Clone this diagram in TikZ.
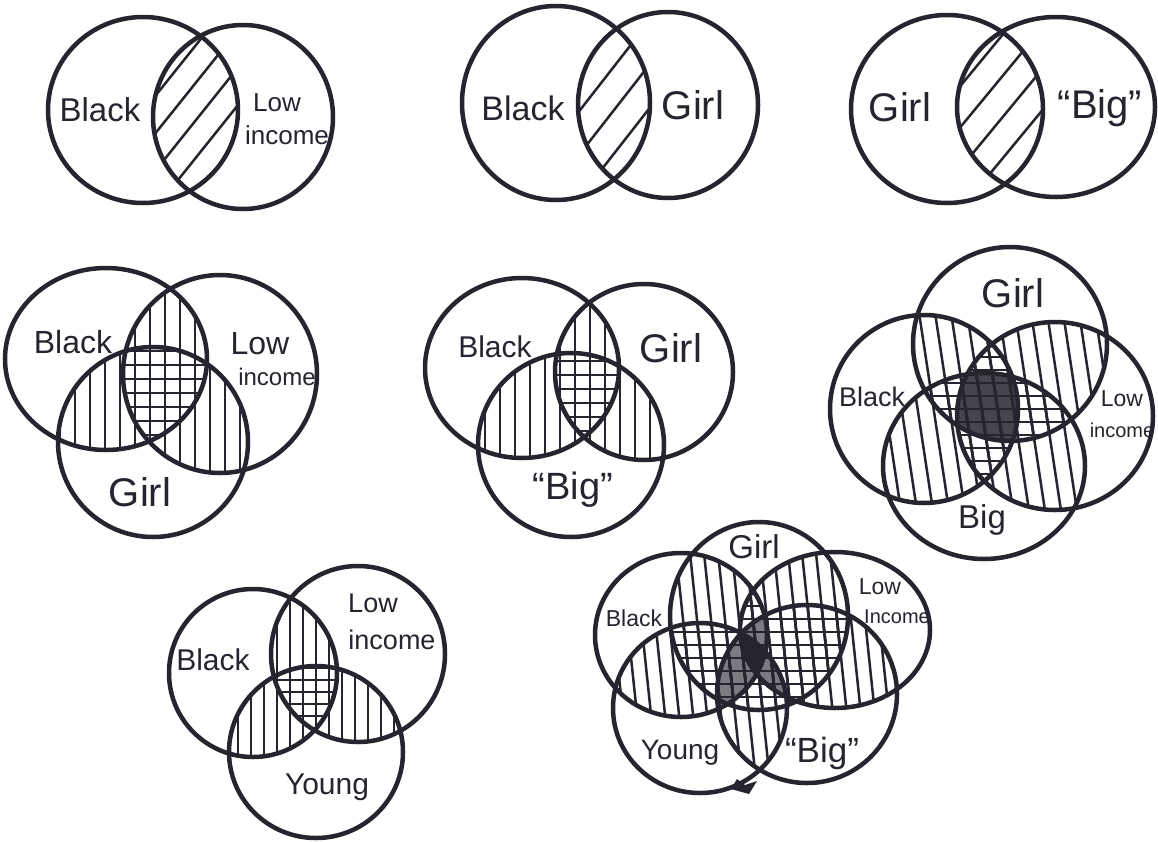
\documentclass[tikz,border=0pt]{standalone}
\usepackage{fontspec}
\setmainfont{Liberation Sans}
\definecolor{ink}{RGB}{38,36,46}
% diagram 1
\def\dOneA{(143,110) ellipse [x radius=95, y radius=93]}
\def\dOneB{(243,117) ellipse [x radius=90, y radius=92]}
% diagram 2
\def\dTwoA{(556,103) ellipse [x radius=94, y radius=97]}
\def\dTwoB{(668,105) ellipse [x radius=90, y radius=93]}
% diagram 3
\def\dThrA{(947,109) ellipse [x radius=96, y radius=94]}
\def\dThrB{(1056,107) ellipse [x radius=99, y radius=90]}
% diagram 4
\def\dFouA{(106,359) ellipse [x radius=101, y radius=91]}
\def\dFouB{(220,374) ellipse [x radius=97, y radius=99]}
\def\dFouC{(153,442) ellipse [x radius=95, y radius=95]}
% diagram 5
\def\dFivA{(522,368) ellipse [x radius=97, y radius=90]}
\def\dFivB{(644,372) ellipse [x radius=89, y radius=88]}
\def\dFivC{(571,445) ellipse [x radius=93, y radius=92]}
% diagram 6
\def\dSixA{(1010,344) ellipse [x radius=97, y radius=97]}
\def\dSixB{(924,409) ellipse [x radius=94, y radius=94]}
\def\dSixC{(1055,416) ellipse [x radius=98, y radius=94]}
\def\dSixD{(984,466) ellipse [x radius=101, y radius=93]}
% diagram 7
\def\dSevA{(253,673) ellipse [x radius=84, y radius=84]}
\def\dSevB{(358,654) ellipse [x radius=87, y radius=88]}
\def\dSevC{(316,752) ellipse [x radius=87, y radius=86]}
% diagram 8
\def\fivG{(759,616) ellipse [x radius=89, y radius=94]}
\def\fivK{(681,635) ellipse [x radius=86, y radius=82]}
\def\fivL{(835,630) ellipse [x radius=95, y radius=78]}
\def\fivY{(700,708) ellipse [x radius=87, y radius=85]}
\def\fivB{(807,694) ellipse [x radius=90, y radius=89]}

\newcommand\hatchV[6]{%
  \begin{scope}#1
  \foreach \i in {0,...,45}{\draw[hatch] ({#2+#6*\i},#3) -- ({#2+#6*\i+#5},#4);}
  \end{scope}}
\newcommand\hatchH[6]{%
  \begin{scope}#1
  \foreach \i in {0,...,30}{\draw[hatch] (#3,{#2+#6*\i}) -- (#4,{#2+#6*\i+#5});}
  \end{scope}}

\tikzset{
  ring/.style={draw=ink, line width=4.5pt},
  hatch/.style={draw=ink, line width=2.5pt, line cap=round},
  lab/.style={text=ink, inner sep=0pt, font=\fontsize{#1}{#1}\selectfont},
  lab/.default=32
}
\begin{document}
\begin{tikzpicture}[x=1pt,y=-1pt]
\useasboundingbox (0,0) rectangle (1158,841);
\fill[white] (0,0) rectangle (1158,841);

% ---------- diagram 1
\hatchV{\clip\dOneA;\clip\dOneB;}{-30}{215}{15}{160}{30}
\draw[ring] \dOneA; \draw[ring] \dOneB;
\node[lab=33] (l1a) at (100,110) {Black};
\node[lab=26] (l1b) at (277,103) {Low};
\node[lab=26] (l1c) at (287,135) {income};

% ---------- diagram 2
\hatchV{\clip\dTwoA;\clip\dTwoB;}{400}{210}{5}{160}{34}
\draw[ring] \dTwoA; \draw[ring] \dTwoB;
\node[lab=34] (l2a) at (523,108) {Black};
\node[lab=40] (l2b) at (693,105) {Girl};

% ---------- diagram 3
\hatchV{\clip\dThrA;\clip\dThrB;}{790}{210}{10}{165}{34}
\draw[ring] \dThrA; \draw[ring] \dThrB;
\node[lab=40] (l3a) at (900,107) {Girl};
\node[lab=40] (l3b) at (1100,108) {“Big”};

% ---------- diagram 4
\hatchV{\clip\dFouA;\clip\dFouB;}{0}{250}{560}{0}{15}
\hatchV{\clip\dFouA;\clip\dFouC;}{0}{250}{560}{0}{15}
\hatchV{\clip\dFouB;\clip\dFouC;}{0}{250}{560}{0}{15}
\hatchH{\clip\dFouA;\clip\dFouB;\clip\dFouC;}{253}{0}{330}{0}{14}
\draw[ring] \dFouA; \draw[ring] \dFouB; \draw[ring] \dFouC;
\node[lab=32] (l4a) at (73,342) {Black};
\node[lab=32] (l4b) at (260,344) {Low};
\node[lab=24] (l4c) at (277,377) {income};
\node[lab=40] (l4d) at (140,492) {Girl};

% ---------- diagram 5
\hatchV{\clip\dFivA;\clip\dFivB;}{410}{260}{560}{0}{15}
\hatchV{\clip\dFivA;\clip\dFivC;}{410}{260}{560}{0}{15}
\hatchV{\clip\dFivB;\clip\dFivC;}{410}{260}{560}{0}{15}
\hatchH{\clip\dFivA;\clip\dFivB;\clip\dFivC;}{263}{400}{760}{0}{14}
\draw[ring] \dFivA; \draw[ring] \dFivB; \draw[ring] \dFivC;
\node[lab=30] (l5a) at (495,347) {Black};
\node[lab=40] (l5b) at (671,348) {Girl};
\node[lab=38] (l5c) at (573,490) {“Big”};

% ---------- diagram 6
\hatchV{\clip\dSixA;\clip\dSixB;}{780}{240}{570}{50}{16}
\hatchV{\clip\dSixA;\clip\dSixC;}{780}{240}{570}{50}{16}
\hatchV{\clip\dSixA;\clip\dSixD;}{780}{240}{570}{50}{16}
\hatchV{\clip\dSixB;\clip\dSixC;}{780}{240}{570}{50}{16}
\hatchV{\clip\dSixB;\clip\dSixD;}{780}{240}{570}{50}{16}
\hatchV{\clip\dSixC;\clip\dSixD;}{780}{240}{570}{50}{16}
\hatchH{\clip\dSixA;\clip\dSixB;\clip\dSixC;}{240}{820}{1158}{0}{13}
\hatchH{\clip\dSixA;\clip\dSixB;\clip\dSixD;}{240}{820}{1158}{0}{13}
\hatchH{\clip\dSixA;\clip\dSixC;\clip\dSixD;}{240}{820}{1158}{0}{13}
\hatchH{\clip\dSixB;\clip\dSixC;\clip\dSixD;}{240}{820}{1158}{0}{13}
\begin{scope}\clip\dSixA;\clip\dSixB;\clip\dSixC;
  \fill[ink, opacity=0.85] \dSixD;
\end{scope}
\draw[ring] \dSixA; \draw[ring] \dSixB; \draw[ring] \dSixC; \draw[ring] \dSixD;
\node[lab=40] (l6a) at (1013,293) {Girl};
\node[lab=27] (l6b) at (872,397) {Black};
\node[lab=23] (l6c) at (1122,399) {Low};
\node[lab=20] (l6d) at (1122,430) {income};
\node[lab=33] (l6e) at (982,520) {Big};

% ---------- diagram 7
\hatchV{\clip\dSevA;\clip\dSevB;}{160}{560}{841}{0}{13}
\hatchV{\clip\dSevA;\clip\dSevC;}{160}{560}{841}{0}{13}
\hatchV{\clip\dSevB;\clip\dSevC;}{160}{560}{841}{0}{13}
\hatchH{\clip\dSevA;\clip\dSevB;\clip\dSevC;}{560}{160}{460}{0}{12}
\draw[ring] \dSevA; \draw[ring] \dSevB; \draw[ring] \dSevC;
\node[lab=30] (l7a) at (213,660) {Black};
\node[lab=27] (l7b) at (373,603) {Low};
\node[lab=27] (l7c) at (392,640) {income};
\node[lab=30] (l7d) at (327,787) {Young};

% ---------- diagram 8
\foreach \pa/\pb in {\fivG/\fivK,\fivG/\fivL,\fivG/\fivY,\fivG/\fivB,\fivK/\fivL,\fivK/\fivY,\fivK/\fivB,\fivL/\fivY,\fivL/\fivB,\fivY/\fivB}{
  \hatchV{\clip\pa;\clip\pb;}{560}{515}{800}{30}{14}
}
\foreach \pa/\pb/\pc in {\fivG/\fivK/\fivL,\fivG/\fivK/\fivY,\fivG/\fivK/\fivB,\fivG/\fivL/\fivY,\fivG/\fivL/\fivB,\fivG/\fivY/\fivB,\fivK/\fivL/\fivY,\fivK/\fivL/\fivB,\fivK/\fivY/\fivB,\fivL/\fivY/\fivB}{
  \hatchH{\clip\pa;\clip\pb;\clip\pc;}{515}{580}{950}{0}{13}
}
\foreach \pa/\pb/\pc/\pd in {\fivG/\fivK/\fivL/\fivY,\fivG/\fivK/\fivL/\fivB,\fivG/\fivK/\fivY/\fivB,\fivG/\fivL/\fivY/\fivB,\fivK/\fivL/\fivY/\fivB}{
  \begin{scope}\clip\pa;\clip\pb;\clip\pc;\fill[ink, opacity=0.6] \pd;\end{scope}
}
\begin{scope}\clip\fivG;\clip\fivK;\clip\fivL;\clip\fivY;\fill[ink] \fivB;\end{scope}
\draw[ring] \fivG; \draw[ring] \fivK; \draw[ring] \fivL; \draw[ring] \fivY; \draw[ring] \fivB;
\fill[ink] (731,789) -- (737,779) -- (745,785) -- (757,781) -- (749,794) -- cycle;
\node[lab=33] (l8a) at (754,547) {Girl};
\node[lab=23] (l8b) at (634,618) {Black};
\node[lab=23] (l8c) at (880,587) {Low};
\node[lab=20] (l8d) at (897,617) {Income};
\node[lab=28] (l8e) at (680,753) {Young};
\node[lab=35] (l8f) at (822,753) {“Big”};
\end{tikzpicture}
\end{document}
